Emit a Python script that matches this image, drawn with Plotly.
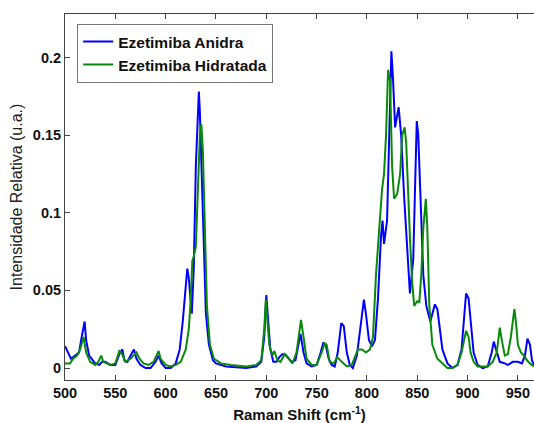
import plotly.graph_objects as go

# Ezetimiba Anidra (blue)
anidra_x = [500, 503, 506, 510, 514, 516, 519.5, 521, 524, 530, 534, 537, 540, 545, 550, 554, 557, 559, 562, 566, 568.5, 571, 575, 580, 585, 590, 593, 596, 600, 605, 610, 614, 617, 621.5, 623, 626, 628, 630, 633, 634, 636, 638, 640, 643, 647, 650, 660, 680, 690, 695, 698, 700, 702, 704, 707, 710, 713, 716, 720, 725, 729, 732, 734, 737, 740, 745, 750, 754, 756.5, 759, 762, 765, 768, 771, 774.5, 777, 780, 783, 786, 790, 793, 797, 799, 802, 805, 808, 811, 814, 815.5, 817, 820, 822, 824.3, 826, 828, 831.5, 834, 837, 840, 842.7, 846, 848, 849.5, 851, 854, 856, 859, 863, 867.5, 870, 875, 880, 885, 890, 894, 897, 898.5, 901, 903, 906, 910, 915, 920, 924, 926, 929, 932, 937, 940, 945, 950, 954, 957, 959.5, 962, 964, 966]
anidra_y = [0.014, 0.010, 0.006, 0.008, 0.010, 0.018, 0.030, 0.018, 0.008, 0.003, 0.002, 0.004, 0.004, 0.002, 0.002, 0.009, 0.012, 0.005, 0.004, 0.009, 0.012, 0.006, 0.002, 0.000, 0.000, 0.004, 0.008, 0.003, 0.000, 0.000, 0.003, 0.012, 0.030, 0.064, 0.058, 0.035, 0.065, 0.130, 0.178, 0.165, 0.120, 0.070, 0.035, 0.015, 0.005, 0.003, 0.001, 0.000, 0.001, 0.004, 0.020, 0.047, 0.030, 0.012, 0.004, 0.004, 0.007, 0.009, 0.008, 0.004, 0.005, 0.015, 0.022, 0.010, 0.003, 0.001, 0.002, 0.010, 0.016, 0.015, 0.006, 0.002, 0.001, 0.010, 0.029, 0.027, 0.010, 0.002, 0.000, 0.008, 0.025, 0.044, 0.035, 0.018, 0.014, 0.018, 0.045, 0.085, 0.095, 0.080, 0.095, 0.140, 0.204, 0.185, 0.155, 0.168, 0.150, 0.110, 0.075, 0.048, 0.070, 0.120, 0.159, 0.150, 0.100, 0.060, 0.040, 0.030, 0.041, 0.038, 0.012, 0.003, 0.000, 0.002, 0.012, 0.040, 0.048, 0.045, 0.030, 0.010, 0.002, 0.000, 0.001, 0.010, 0.017, 0.010, 0.004, 0.003, 0.002, 0.004, 0.004, 0.003, 0.008, 0.019, 0.015, 0.005, 0.002]

# Ezetimiba Hidratada (green)
hidratada_x = [500, 505, 508, 512, 515, 518.5, 521, 525, 530, 533, 536, 538, 545, 550, 554, 556, 560, 565, 571, 574, 578, 583, 588, 593, 595, 600, 605, 610, 615, 620, 623, 625, 626.5, 628, 630, 632, 634, 635.5, 637, 639, 641, 644, 648, 655, 665, 680, 690, 695, 698, 699.5, 701, 703, 706, 708, 711, 714, 718.5, 722, 726, 730, 733, 734.5, 737, 740, 745, 750, 755, 758, 760, 763, 767, 770.5, 775, 780, 785, 789, 791, 795, 799, 803, 806, 809, 812, 815, 817, 819, 821, 823, 825, 827, 830, 833, 835, 837.5, 839, 841, 843, 845, 847, 850, 852, 854, 856, 858.5, 860, 862, 865, 870, 875, 880, 885, 890, 894, 897, 898.5, 901, 903, 906, 910, 920, 925, 929, 932, 934, 937, 940, 943, 946.5, 948, 950, 953, 956, 959, 962, 966]
hidratada_y = [0.003, 0.003, 0.006, 0.008, 0.012, 0.020, 0.010, 0.004, 0.002, 0.004, 0.008, 0.004, 0.002, 0.003, 0.011, 0.010, 0.004, 0.006, 0.010, 0.006, 0.003, 0.002, 0.004, 0.011, 0.006, 0.002, 0.001, 0.002, 0.004, 0.012, 0.025, 0.045, 0.069, 0.072, 0.078, 0.120, 0.150, 0.157, 0.140, 0.090, 0.040, 0.015, 0.006, 0.003, 0.002, 0.001, 0.002, 0.005, 0.025, 0.044, 0.030, 0.015, 0.008, 0.011, 0.005, 0.004, 0.009, 0.006, 0.003, 0.010, 0.025, 0.031, 0.020, 0.006, 0.002, 0.002, 0.010, 0.016, 0.015, 0.004, 0.003, 0.007, 0.004, 0.001, 0.002, 0.008, 0.012, 0.012, 0.010, 0.012, 0.020, 0.060, 0.090, 0.115, 0.125, 0.150, 0.192, 0.185, 0.130, 0.109, 0.112, 0.125, 0.150, 0.155, 0.145, 0.110, 0.080, 0.055, 0.040, 0.043, 0.042, 0.060, 0.090, 0.109, 0.090, 0.040, 0.015, 0.006, 0.003, 0.000, 0.000, 0.002, 0.010, 0.020, 0.024, 0.020, 0.010, 0.004, 0.001, 0.001, 0.004, 0.010, 0.026, 0.018, 0.008, 0.009, 0.020, 0.038, 0.030, 0.015, 0.010, 0.008, 0.005, 0.003, 0.001]

x_ticks = [500, 550, 600, 650, 700, 750, 800, 850, 900, 950]
y_ticks = [0, 0.05, 0.1, 0.15, 0.2]
y_tick_labels = ["0", "0.05", "0.1", "0.15", "0.2"]

FONT = "Liberation Sans, Arial, sans-serif"

fig = go.Figure()
fig.add_trace(go.Scatter(x=anidra_x, y=anidra_y, mode="lines", name="Ezetimiba Anidra",
                         line=dict(color="#0000ff", width=2)))
fig.add_trace(go.Scatter(x=hidratada_x, y=hidratada_y, mode="lines", name="Ezetimiba Hidratada",
                         line=dict(color="#0a8a0a", width=2)))

fig.update_layout(
    width=534, height=423,
    margin=dict(l=65, r=0, t=14, b=43),
    paper_bgcolor="white", plot_bgcolor="white",
    font=dict(family=FONT, color="#111111", size=14),
    showlegend=True,
    legend=dict(x=0.026, y=0.973, xanchor="left", yanchor="top",
                bgcolor="white", bordercolor="#777777", borderwidth=1,
                font=dict(family=FONT, size=15.5, weight="bold", color="#111111"),
                itemwidth=30, tracegroupgap=0),
)
fig.update_xaxes(
    range=[500, 966], tickvals=x_ticks, ticks="inside", ticklen=5, tickcolor="#444444",
    showline=True, linecolor="#444444", linewidth=1, mirror="ticks",
    showgrid=False, zeroline=False, automargin=False,
    tickfont=dict(family=FONT, size=14.5, weight="bold", color="#111111"),
    title=dict(text="Raman Shift (cm<sup>-1</sup>)", standoff=10,
               font=dict(family=FONT, size=15, weight="bold", color="#111111")),
)
fig.update_yaxes(
    range=[-0.0077, 0.228], tickvals=y_ticks, ticktext=y_tick_labels,
    ticks="inside", ticklen=5, tickcolor="#444444",
    showline=True, linecolor="#444444", linewidth=1, mirror=False,
    showgrid=False, zeroline=False, automargin=False,
    tickfont=dict(family=FONT, size=14.5, weight="bold", color="#111111"),
    title=dict(text="Intensidade Relativa (u.a.)", standoff=6,
               font=dict(family=FONT, size=16, color="#222222")),
)

fig.write_html("out.html", config={"displayModeBar": False},
               post_script="document.body.style.margin='0';document.body.style.overflow='hidden';")
